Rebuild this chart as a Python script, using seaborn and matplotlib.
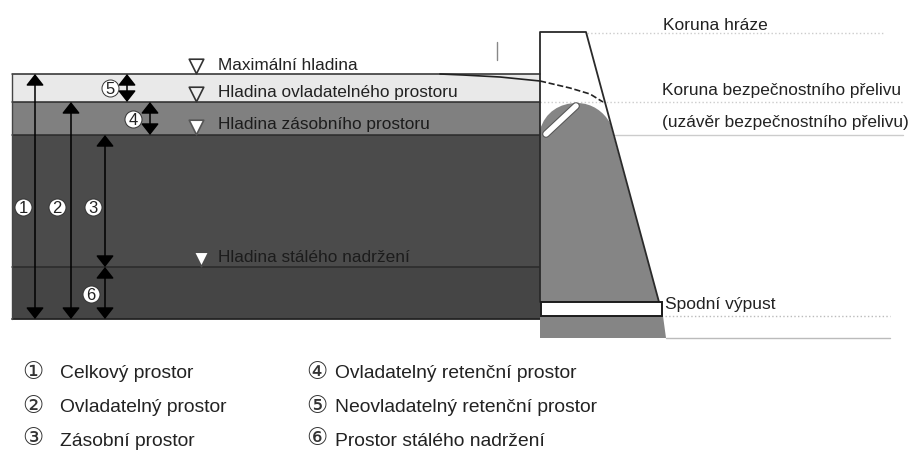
import matplotlib
matplotlib.use('Agg')
import matplotlib.pyplot as plt
from matplotlib.patches import PathPatch, Rectangle
from matplotlib.path import Path
import seaborn as sns

# water levels of the reservoir, top to bottom
level_names = ['Maximální hladina', 'Hladina ovladatelného prostoru',
               'Hladina zásobního prostoru', 'Hladina stálého nadržení']
level_y = [74, 102, 135, 267]
bottom_y = 319
band_colors = ['#e9e9e9', '#808080', '#4b4b4b', '#454545']

# overflow curve over the crest
curve_x = [440, 463, 500, 540]
curve_y = [74, 75, 77, 81]
dash_x = [540, 570, 590, 603]
dash_y = [81, 88, 94, 102]

# numbered spaces: number, x of arrow, from, to, x and y of the badge
space_no = ['1', '2', '3', '4', '5', '6']
space_x = [35, 71, 105, 150, 127, 105]
space_top = [74, 102, 135, 102, 74, 267]
space_bottom = [319, 319, 267, 135, 102, 319]
badge_x = [23, 57, 93, 133, 110, 91]
badge_y = [207, 207, 207, 119, 88, 294]

legend_left = ['①', '②', '③']
legend_left_text = ['Celkový prostor', 'Ovladatelný prostor', 'Zásobní prostor']
legend_right = ['④', '⑤', '⑥']
legend_right_text = ['Ovladatelný retenční prostor', 'Neovladatelný retenční prostor',
                     'Prostor stálého nadržení']

sns.set_theme(style='white')
plt.rcParams['font.family'] = ['Liberation Sans', 'DejaVu Sans']

fig, ax = plt.subplots(figsize=(9.09, 4.5), dpi=100)
ax.set_position([0, 0, 1, 1])
ax.set_xlim(0, 909)
ax.set_ylim(450, 0)
ax.axis('off')


def line(xs, ys, **kw):
    sns.lineplot(x=xs, y=ys, estimator=None, sort=False, ax=ax, **kw)


# reservoir bands
edges = level_y + [bottom_y]
for i, c in enumerate(band_colors):
    ax.fill_between([12, 540], edges[i], edges[i + 1], color=c, lw=0, zorder=1)
    line([12, 540], [edges[i], edges[i]], color='#2a2a2a', lw=1.1, zorder=2)
line([12, 540], [bottom_y, bottom_y], color='#222222', lw=1.3, zorder=2)
line([12, 12], [74, bottom_y], color='#444444', lw=1.0, zorder=2)

# helper lines to the right of the dam
line([587, 883], [33, 33], color='#cccccc', lw=1, linestyle=':')
line([540, 903], [102, 102], color='#cccccc', lw=1, linestyle=':')
line([615, 903], [135, 135], color='#cccccc', lw=1)
line([665, 890], [316, 316], color='#bbbbbb', lw=1, linestyle=':')
line([666, 890], [338, 338], color='#bbbbbb', lw=1)

# dam body
dam = Path([(540, 130), (545, 112), (560, 103), (577, 103), (592, 103), (604, 112), (610, 123),
            (659, 302), (662, 302), (663, 316), (666, 338), (540, 338), (540, 130)],
           [Path.MOVETO, Path.CURVE4, Path.CURVE4, Path.CURVE4, Path.CURVE4, Path.CURVE4, Path.CURVE4,
            Path.LINETO, Path.LINETO, Path.LINETO, Path.LINETO, Path.LINETO, Path.CLOSEPOLY])
ax.add_patch(PathPatch(dam, fc='#858585', ec='none', zorder=3))
line([540, 540, 586, 659], [302, 32, 32, 302], color='#2a2a2a', lw=1.3, zorder=4)
ax.add_patch(Rectangle((541, 302), 121, 14, fc='white', ec='#1c1c1c', lw=1.4, zorder=5))

# crest gate
line([546, 576], [134, 106], color='#555555', lw=5.5, zorder=5, solid_capstyle='round')
line([546, 576], [134, 106], color='white', lw=4, zorder=6, solid_capstyle='round')

# water surface curve
line(curve_x, curve_y, color='#222222', lw=1.2, zorder=7)
line(dash_x, dash_y, color='#222222', lw=1.2, linestyle='--', zorder=7)
line([497, 497], [42, 60], color='#888888', lw=1)

# arrows
for x, a, b in zip(space_x, space_top, space_bottom):
    ax.annotate('', xy=(x, a), xytext=(x, b), zorder=8,
                arrowprops=dict(arrowstyle='<|-|>,head_length=0.7,head_width=0.55', mutation_scale=10,
                                color='black', lw=1.1, shrinkA=0, shrinkB=0))

# numbered badges
sns.scatterplot(x=badge_x, y=badge_y, color='white', edgecolor='#333333', linewidth=0.7, s=150, ax=ax, zorder=9)
for n, x, y in zip(space_no, badge_x, badge_y):
    ax.text(x, y, n, fontsize=12, color='#222222', ha='center', va='center_baseline', zorder=10)

# water level triangles
tri_x = [196, 196, 196, 201]
tri_y = [66, 94, 127, 259]
tri_edge = ['#333333', '#333333', '#555555', '#4b4b4b']
tri_fill = ['white', '#eeeeee', 'white', 'white']
for x, y, f, e in zip(tri_x, tri_y, tri_fill, tri_edge):
    ax.scatter([x], [y], marker='v', s=110, facecolor=f, edgecolor=e, linewidth=1.2, zorder=9)

# level labels
label_y = [66, 93, 125, 258]
label_color = ['#222222', '#222222', '#1c1c1c', '#1c1c1c']
for t, y, c in zip(level_names, label_y, label_color):
    ax.text(218, y, t, fontsize=12.45, color=c, va='center', zorder=9)

# dam labels
ax.text(663, 25, 'Koruna hráze', fontsize=12.5, color='#222222', va='center')
ax.text(662, 91, 'Koruna bezpečnostního přelivu', fontsize=12.4, color='#222222', va='center')
ax.text(662, 123, '(uzávěr bezpečnostního přelivu)', fontsize=12.4, color='#222222', va='center')
ax.text(665, 305, 'Spodní výpust', fontsize=12.5, color='#222222', va='center')

# legend under the chart
legend_y = [374, 408, 441]
circle_y = [373, 407, 439]
for i, y in enumerate(legend_y):
    ax.text(22, circle_y[i], legend_left[i], fontsize=17, color='#333333', va='center')
    ax.text(60, y, legend_left_text[i], fontsize=13.9, color='#222222', va='center')
    ax.text(306, circle_y[i], legend_right[i], fontsize=17, color='#333333', va='center')
    ax.text(335, y, legend_right_text[i], fontsize=13.9, color='#222222', va='center')

fig.savefig('out.png', dpi=100)
